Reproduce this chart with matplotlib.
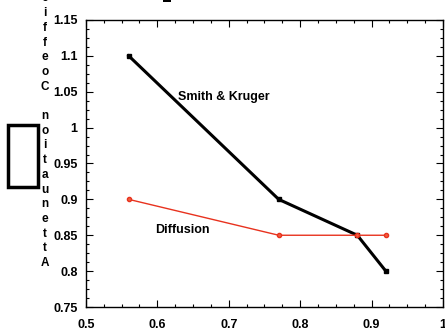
import matplotlib
matplotlib.use('Agg')
import matplotlib.pyplot as plt
from matplotlib.patches import Rectangle
from matplotlib.ticker import MultipleLocator

plt.rcParams['font.family'] = ['Liberation Sans', 'DejaVu Sans']

# data
x_vals = [0.56, 0.77, 0.88, 0.92]
smith_kruger = [1.1, 0.9, 0.85, 0.8]
diffusion = [0.9, 0.85, 0.85, 0.85]

x_ticks = [0.5, 0.6, 0.7, 0.8, 0.9, 1.0]
x_tick_labels = ['0.5', '0.6', '0.7', '0.8', '0.9', '1']
y_ticks = [0.75, 0.8, 0.85, 0.9, 0.95, 1.0, 1.05, 1.1, 1.15]
y_tick_labels = ['0.75', '0.8', '0.85', '0.9', '0.95', '1', '1.05', '1.1', '1.15']
y_label = 'Attenuation Coefficient'


def main():
    fig = plt.figure(figsize=(4.45, 3.36), dpi=100)
    ax = fig.add_axes([0.193, 0.0863, 0.8025, 0.8542])

    ax.plot(x_vals, smith_kruger, color='black', lw=2.2, marker='s', ms=3)
    ax.plot(x_vals, diffusion, color='#e8321e', lw=1, marker='o', ms=3,
            markerfacecolor='#f06040')

    ax.text(0.6287, 1.042, 'Smith & Kruger', fontsize=9, fontweight='bold',
            va='center')
    ax.text(0.5965, 0.857, 'Diffusion', fontsize=9, fontweight='bold',
            va='center')

    ax.set_xlim(0.5, 1.0)
    ax.set_ylim(0.75, 1.15)
    ax.set_xticks(x_ticks)
    ax.set_xticklabels(x_tick_labels)
    ax.set_yticks(y_ticks)
    ax.set_yticklabels(y_tick_labels)
    ax.xaxis.set_minor_locator(MultipleLocator(0.025))
    ax.yaxis.set_minor_locator(MultipleLocator(0.0125))
    ax.tick_params(which='both', direction='in', top=True, right=True, width=0.8)
    ax.tick_params(which='major', length=5, labelsize=9)
    ax.tick_params(which='minor', length=2.5)
    ax.tick_params(axis='x', pad=8.5)
    ax.tick_params(axis='y', pad=6)
    for lab in ax.get_xticklabels() + ax.get_yticklabels():
        lab.set_fontweight('bold')
    for sp in ax.spines.values():
        sp.set_linewidth(1)

    # stacked vertical axis title, upright letters reading bottom to top
    fig.text(45 / 445, 1 - 269 / 336, '\n'.join(y_label[::-1]), fontsize=8.5,
             fontweight='bold', ha='center', va='bottom', linespacing=1.3)

    # empty legend box on the left and a stray mark at the top
    fig.patches.append(Rectangle((8 / 445, 1 - 187 / 336), 30 / 445, 62 / 336,
                                 transform=fig.transFigure, fill=False,
                                 edgecolor='black', lw=2.5))
    fig.patches.append(Rectangle((163 / 445, 1 - 2 / 336), 8 / 445, 2 / 336,
                                 transform=fig.transFigure, facecolor='black',
                                 lw=0))

    fig.savefig('out.png', dpi=100)


if __name__ == '__main__':
    main()
